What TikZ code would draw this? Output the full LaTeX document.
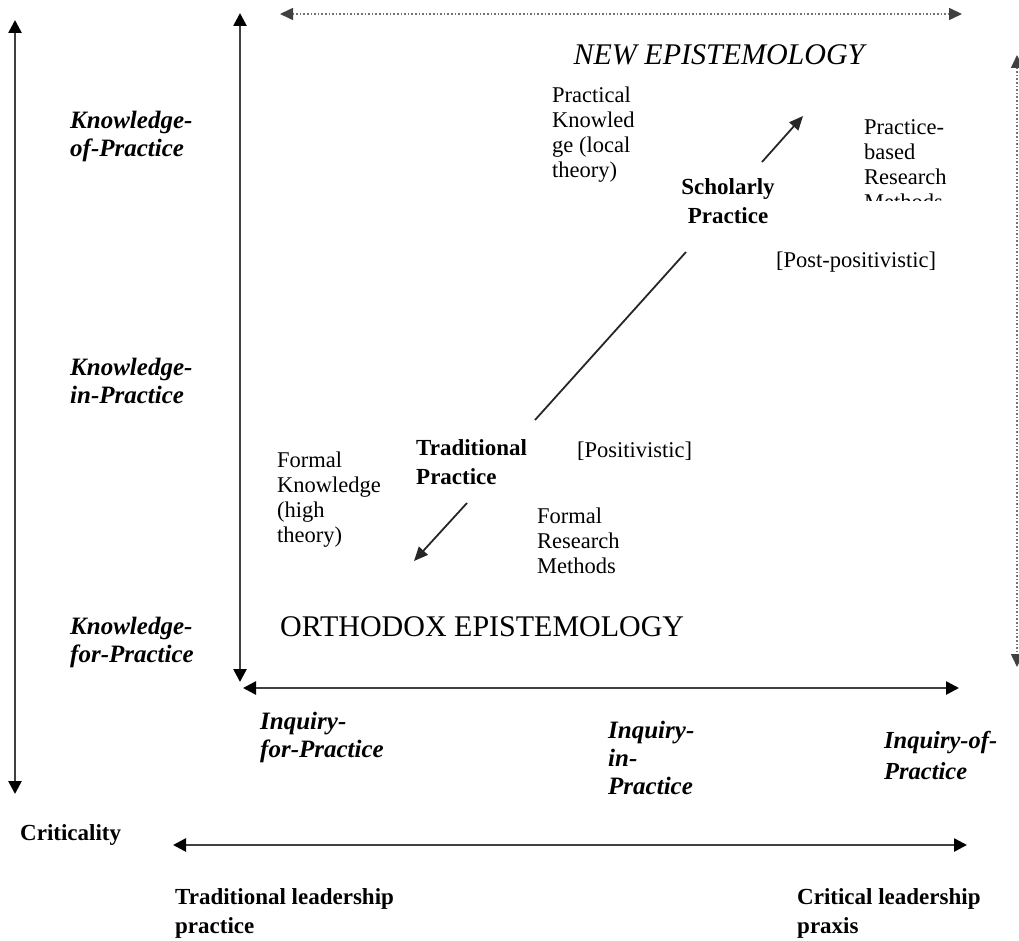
\documentclass[tikz,border=0pt]{standalone}
\usepackage{fontspec}
\setmainfont{Liberation Serif}
\usetikzlibrary{arrows.meta}
\begin{document}
\begin{tikzpicture}[x=1pt,y=-1pt,
  lbl/.style={inner sep=0pt, anchor=west, align=left, font=\fontsize{22.5}{25}\selectfont},
  bi/.style={inner sep=0pt, anchor=west, align=left, font=\fontsize{25}{28}\selectfont\bfseries\itshape},
  bd/.style={inner sep=0pt, anchor=west, align=left, font=\fontsize{23}{29}\selectfont\bfseries},
  axis/.style={line width=2.6pt, draw=black!75, {Triangle[length=13pt,width=13pt,color=black,fill=black]}-{Triangle[length=13pt,width=13pt,color=black,fill=black]}},
  dotaxis/.style={line width=1.6pt, draw=black!55, dotted, {Triangle[length=13pt,width=12pt,color=black!75,fill=black!75]}-{Triangle[length=13pt,width=12pt,color=black!75,fill=black!75]}},
  diag/.style={line width=1.8pt, draw=black!85}
]
\useasboundingbox (0,0) rectangle (1019,941);

% axis end points
\coordinate (l1) at (15,20);   \coordinate (l2) at (15,794);
\coordinate (v1) at (240,13);  \coordinate (v2) at (240,682);
\coordinate (h1) at (243,688); \coordinate (h2) at (959,688);
\coordinate (t1) at (280,14);  \coordinate (t2) at (962,14);
\coordinate (r1) at (1017,55); \coordinate (r2) at (1017,667);
\coordinate (c1) at (173,845); \coordinate (c2) at (967,845);
\coordinate (d0) at (535,420); \coordinate (d1) at (686,252);
\coordinate (d2) at (762,162); \coordinate (d3) at (803,116);
\coordinate (e1) at (467,503); \coordinate (e2) at (414,561);

\draw[axis] (l1) -- (l2);
\draw[axis] (v1) -- (v2);
\draw[axis] (h1) -- (h2);
\draw[axis] (c1) -- (c2);
\draw[dotaxis] (t1) -- (t2);
\draw[dotaxis] (r1) -- (r2);
\draw[diag] (d0) -- (d1);
\draw[diag, -{Triangle[length=14pt,width=12pt]}] (d2) -- (d3);
\draw[diag, -{Triangle[length=14pt,width=12pt]}] (e1) -- (e2);

% texts
\node[inner sep=0pt, font=\fontsize{30}{34}\selectfont\itshape] (newep) at (719,55) {NEW EPISTEMOLOGY};
\node[lbl] (pk) at (552,135) {Practical\\Knowled\\ge (local\\theory)};
\node[bd, anchor=center, align=center] (sp) at (728,201) {Scholarly\\Practice};
\begin{scope}
\clip (850,110) rectangle (1000,201);
\node[lbl, anchor=north west] (pb) at (864,119) {Practice-\\based\\Research\\Methods};
\end{scope}
\node[lbl] (post) at (776,262) {[Post-positivistic]};
\node[bi] (kop) at (70,136) {Knowledge-\\of-Practice};
\node[bi] (kip) at (70,381) {Knowledge-\\in-Practice};
\node[bi] (kfp) at (70,642) {Knowledge-\\for-Practice};
\node[bd] (tp) at (416,462) {Traditional\\Practice};
\node[lbl] (pos) at (577,451) {[Positivistic]};
\node[lbl] (fk) at (277,500) {Formal\\Knowledge\\(high\\theory)};
\node[lbl] (frm) at (537,541) {Formal\\Research\\Methods};
\node[inner sep=0pt, anchor=west, font=\fontsize{30}{32}\selectfont] (orth) at (280,627) {ORTHODOX EPISTEMOLOGY};
\node[bi] (ifp) at (260,737) {Inquiry-\\for-Practice};
\node[bi] (iip) at (608,758) {Inquiry-\\in-\\Practice};
\node[bi, font=\fontsize{24.5}{31}\selectfont\bfseries\itshape] (iop) at (884,755) {Inquiry-of-\\Practice};
\node[bd] (crit) at (20,835) {Criticality};
\node[bd] (tlp) at (175,913) {Traditional leadership\\practice};
\node[bd] (clp) at (797,913) {Critical leadership\\praxis};
\end{tikzpicture}
\end{document}
